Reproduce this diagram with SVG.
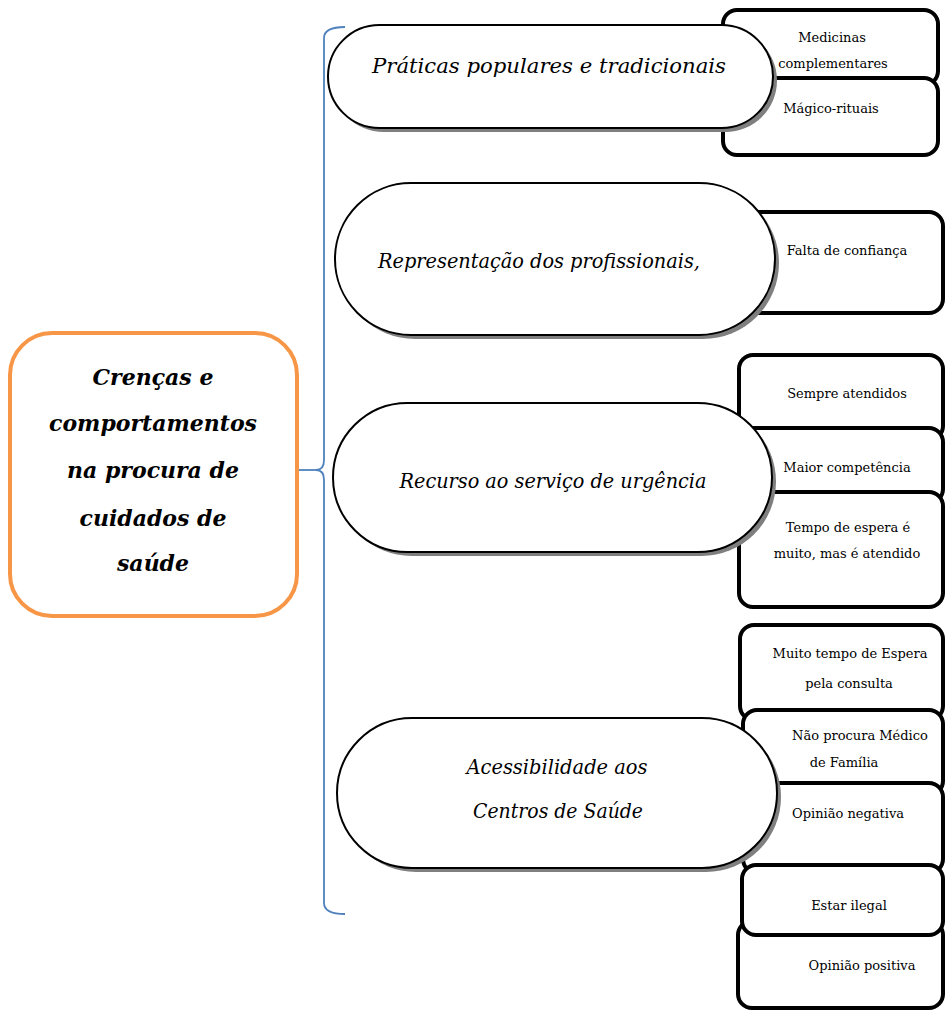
<svg xmlns="http://www.w3.org/2000/svg" width="945" height="1011" viewBox="0 0 945 1011">
  <style>
    .box { fill: #ffffff; stroke: #000000; stroke-width: 4; }
    .pill { fill: #ffffff; stroke: #000000; stroke-width: 2; }
    .shadow { fill: #7f7f7f; }
    .root { fill: #ffffff; stroke: #F79646; stroke-width: 4; }
    .brace { fill: none; stroke: #4F81BD; stroke-width: 1.8; }
    .small { font-family: "DejaVu Serif", "Liberation Serif", serif; font-size: 13px; fill: #000; }
    .label { font-family: "DejaVu Serif", "Liberation Serif", serif; font-size: 20px; font-style: italic; fill: #000; }
    .title { font-family: "DejaVu Serif", "Liberation Serif", serif; font-size: 22px; font-style: italic; font-weight: bold; fill: #000; }
    .mid { text-anchor: middle; }
  </style>

  <!-- central topic -->
  <g id="root">
    <rect class="root" x="10" y="333" width="287" height="283" rx="42"/>
    <text class="title mid" x="153" y="385">Crenças e</text>
    <text class="title mid" x="153" y="431">comportamentos</text>
    <text class="title mid" x="153" y="478">na procura de</text>
    <text class="title mid" x="153" y="526">cuidados de</text>
    <text class="title mid" x="153" y="571">saúde</text>
  </g>

  <!-- brace joining the topic to its four branches -->
  <g id="connectors">
    <path class="brace" d="M345,27 Q324,27 324,38 L324,460 Q324,470 316,470 Q324,470 324,480 L324,903 Q324,914 345,914"/>
    <line class="brace" x1="299" y1="470" x2="316" y2="470"/>
  </g>

  <!-- detail boxes (drawn beneath the branch pills) -->
  <g id="box-medicinas">
    <rect class="box" x="723" y="10" width="215" height="75" rx="14"/>
    <text class="small mid" x="832" y="42">Medicinas</text>
    <text class="small mid" x="833" y="68">complementares</text>
  </g>
  <g id="box-magico">
    <rect class="box" x="723" y="78" width="215" height="77" rx="14"/>
    <text class="small mid" x="831" y="113">Mágico-rituais</text>
  </g>
  <g id="box-falta">
    <rect class="box" x="745" y="212" width="198" height="101" rx="14"/>
    <text class="small mid" x="847" y="255">Falta de confiança</text>
  </g>
  <g id="box-sempre">
    <rect class="box" x="739" y="355" width="204" height="85" rx="14"/>
    <text class="small mid" x="847" y="398">Sempre atendidos</text>
  </g>
  <g id="box-maior">
    <rect class="box" x="739" y="428" width="204" height="75" rx="14"/>
    <text class="small mid" x="847" y="472">Maior competência</text>
  </g>
  <g id="box-tempo">
    <rect class="box" x="739" y="492" width="204" height="115" rx="14"/>
    <text class="small mid" x="848" y="532">Tempo de espera é</text>
    <text class="small mid" x="847" y="558">muito, mas é atendido</text>
  </g>
  <g id="box-espera">
    <rect class="box" x="740" y="625" width="203" height="95" rx="14"/>
    <text class="small mid" x="850" y="658">Muito tempo de Espera</text>
    <text class="small mid" x="849" y="688">pela consulta</text>
  </g>
  <g id="box-medico">
    <rect class="box" x="743" y="710" width="200" height="85" rx="14"/>
    <text class="small mid" x="860" y="740">Não procura Médico</text>
    <text class="small mid" x="844" y="767">de Família</text>
  </g>
  <g id="box-negativa">
    <rect class="box" x="743" y="783" width="200" height="90" rx="14"/>
    <text class="small mid" x="848" y="818">Opinião negativa</text>
  </g>
  <g id="box-positiva">
    <rect class="box" x="738" y="921" width="205" height="87" rx="14"/>
    <text class="small mid" x="862" y="970">Opinião positiva</text>
  </g>
  <g id="box-ilegal">
    <rect class="box" x="742" y="865" width="201" height="70" rx="14"/>
    <text class="small mid" x="849" y="910">Estar ilegal</text>
  </g>

  <!-- branch pills with drop shadows -->
  <g id="branch-praticas">
    <rect class="shadow" x="332" y="29" width="445" height="103" rx="51.5"/>
    <rect class="pill" x="328" y="25" width="445" height="103" rx="51.5"/>
    <text class="label mid" x="549" y="73" textLength="354" lengthAdjust="spacingAndGlyphs">Práticas populares e tradicionais</text>
  </g>
  <g id="branch-representacao">
    <rect class="shadow" x="339" y="187" width="440" height="152" rx="76"/>
    <rect class="pill" x="335" y="183" width="440" height="152" rx="76"/>
    <text class="label mid" x="539" y="268" textLength="322" lengthAdjust="spacingAndGlyphs">Representação dos profissionais,</text>
  </g>
  <g id="branch-urgencia">
    <rect class="shadow" x="337" y="407" width="439" height="149" rx="74.5"/>
    <rect class="pill" x="333" y="403" width="439" height="149" rx="74.5"/>
    <text class="label mid" x="553" y="488" textLength="307" lengthAdjust="spacingAndGlyphs">Recurso ao serviço de urgência</text>
  </g>
  <g id="branch-acessibilidade">
    <rect class="shadow" x="341" y="722" width="440" height="150" rx="75"/>
    <rect class="pill" x="337" y="718" width="440" height="150" rx="75"/>
    <text class="label mid" x="557" y="774" textLength="181" lengthAdjust="spacingAndGlyphs">Acessibilidade aos</text>
    <text class="label mid" x="558" y="818" textLength="170" lengthAdjust="spacingAndGlyphs">Centros de Saúde</text>
  </g>
</svg>
